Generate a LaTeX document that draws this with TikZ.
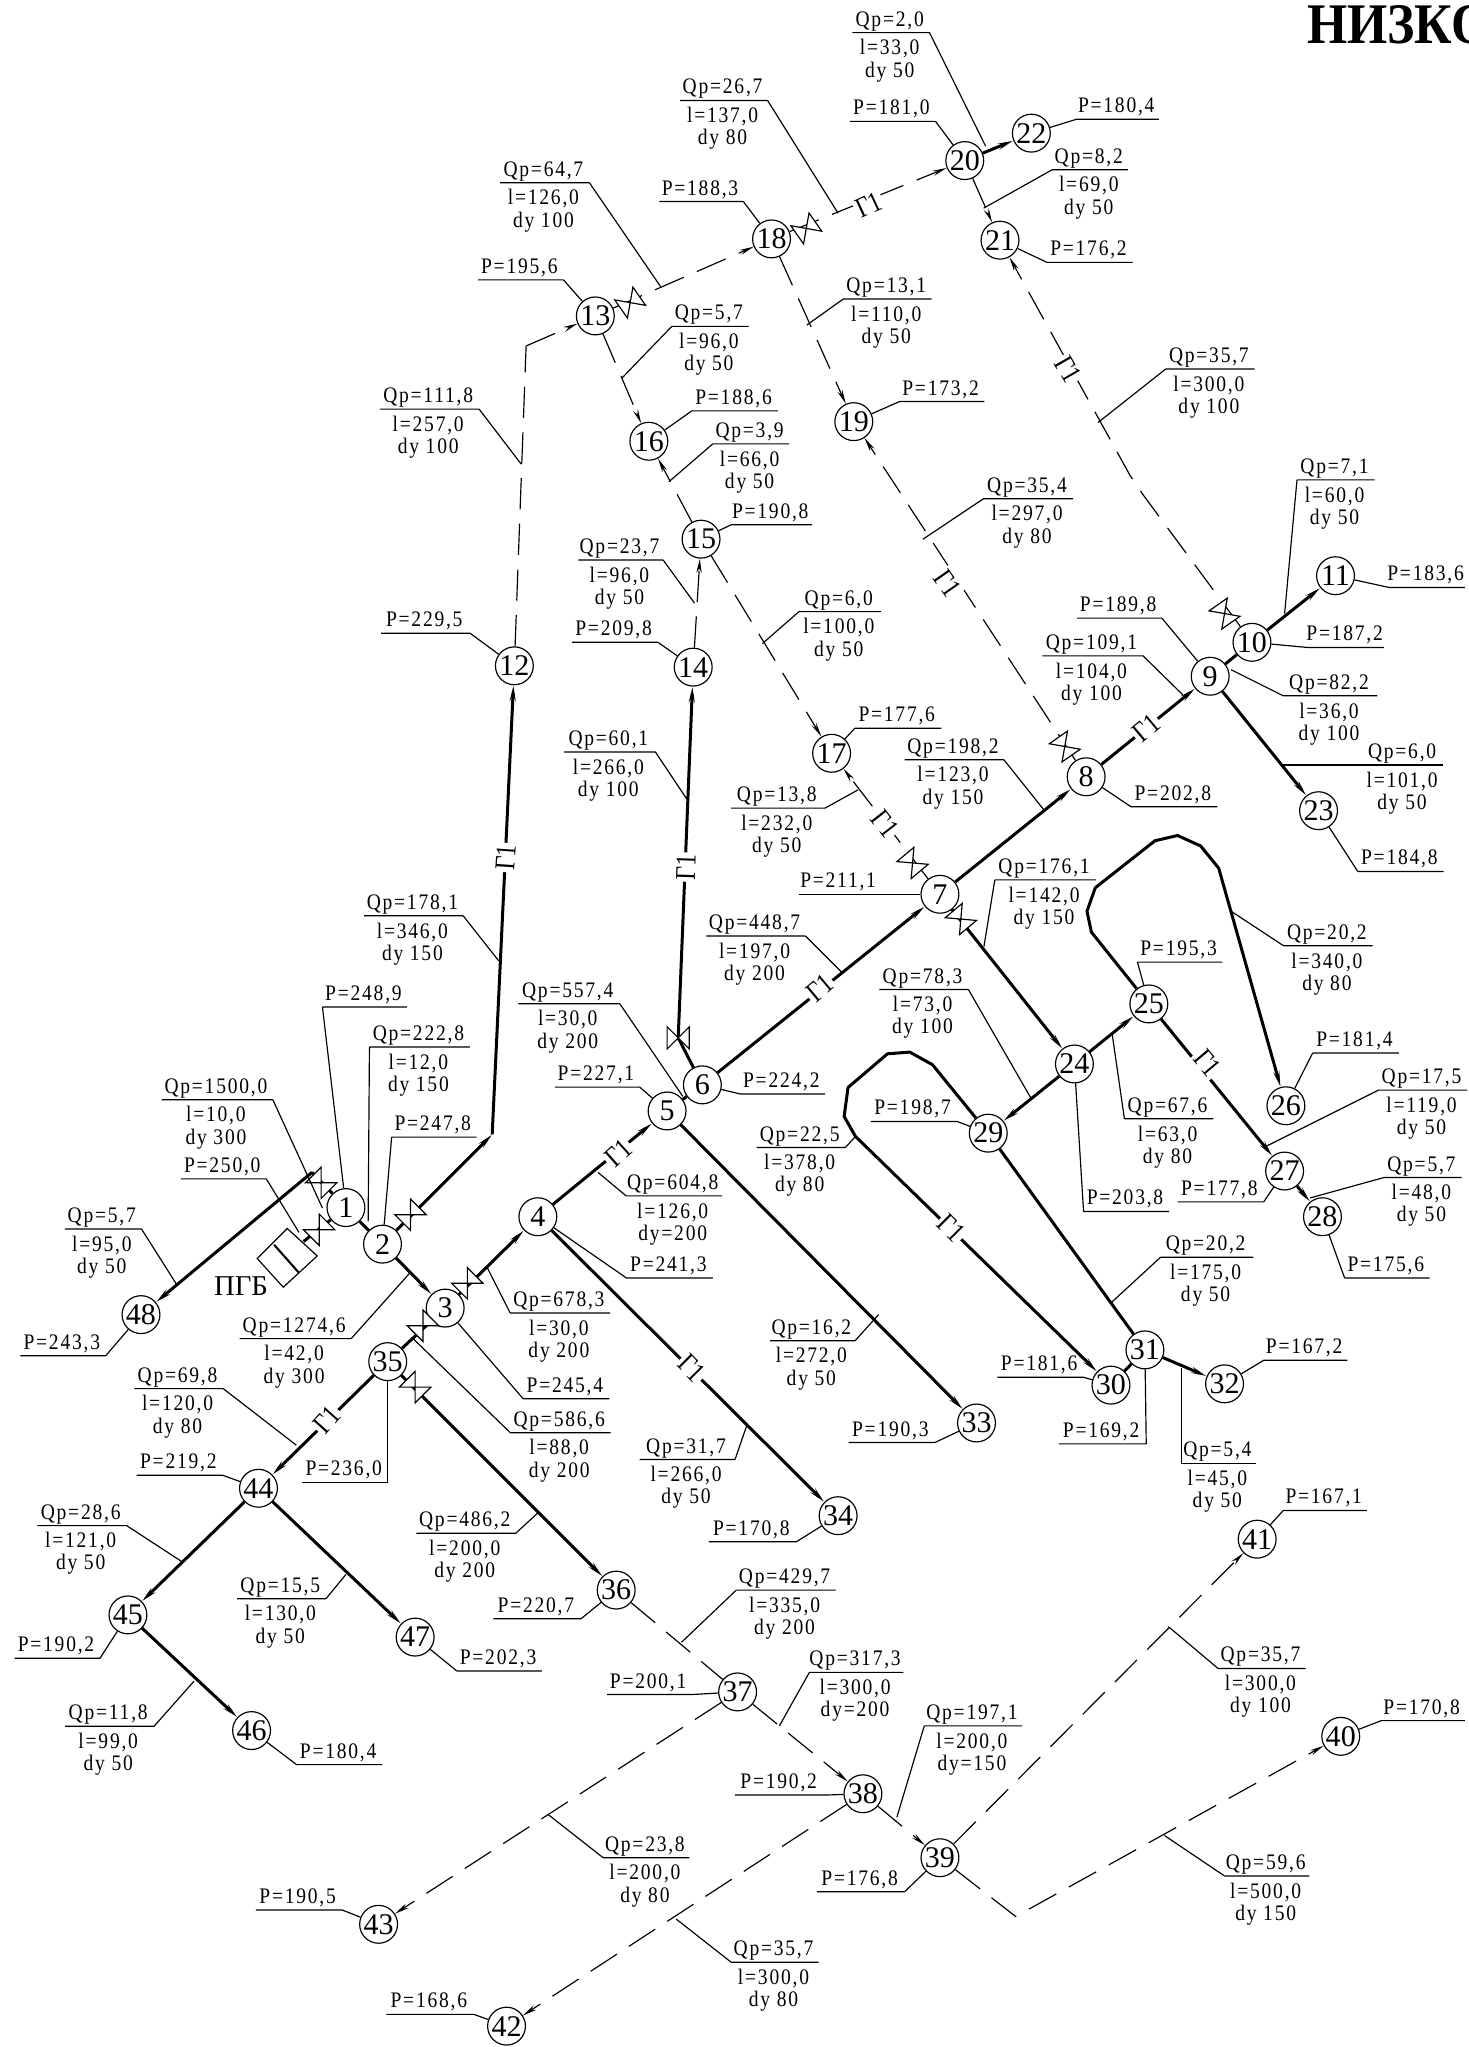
\documentclass[tikz,border=0pt]{standalone}
\usepackage{fontspec}
\setmainfont{Liberation Serif}[FakeStretch=0.88,LetterSpace=8]
\newfontfamily\numfont{Liberation Serif}
\newfontfamily\gfont{Liberation Serif}[FakeStretch=0.82]
\newfontfamily\titlefont{Liberation Serif}[FakeStretch=0.9]
\usetikzlibrary{arrows.meta}
\tikzset{
  nd/.style={circle,draw,line width=0.9pt,fill=white,minimum size=29pt,inner sep=0pt,font=\numfont\fontsize{23}{23}\selectfont},
  lbl/.style={anchor=base,inner sep=0pt,font=\fontsize{17}{17}\selectfont},
  leader/.style={line width=0.9pt},
  hp/.style={line width=2.3pt},
  dp/.style={line width=0.9pt,dash pattern=on 24pt off 11pt},
  arr/.style={-{Stealth[length=11pt,width=4pt]}},
  glab/.style={fill=white,inner sep=1.5pt,font=\gfont\fontsize{22}{22}\selectfont},
  vlv/.style={line width=0.9pt,fill=white,draw}
}
\newcommand\Qb[9]{%
  \pgfmathsetmacro\xm{(#2+#3)/2-1}%
  \coordinate (#1a) at (#2,#4);\coordinate (#1b) at (#3,#4);
  \coordinate (#1e) at (#5,#4);\coordinate (#1t) at (#6);
  \draw[leader] (#1a)--(#1b) (#1e)--(#1t);
  \node[lbl] (#1q) at ({\xm},{#4-5}) {#7};
  \node[lbl] (#1l) at ({\xm},{#4+17}) {#8};
  \node[lbl] (#1d) at ({\xm},{#4+34}) {#9};
}
\newcommand\QL[8]{\Qb{#1}{#2}{#3}{#4}{#2}{#5}{#6}{#7}{#8}}
\newcommand\QR[8]{\Qb{#1}{#2}{#3}{#4}{#3}{#5}{#6}{#7}{#8}}
\newcommand\Pb[7]{%
  \pgfmathsetmacro\xm{(#2+#3)/2-1}%
  \coordinate (#1a) at (#2,#4);\coordinate (#1b) at (#3,#4);\coordinate (#1e) at (#5,#4);
  \draw[leader] (#1a)--(#1b) (#1e)--(#6);
  \node[lbl] (#1q) at ({\xm},{#4-5}) {#7};
}
\newcommand\PL[6]{\Pb{#1}{#2}{#3}{#4}{#2}{#5}{#6}}
\newcommand\PR[6]{\Pb{#1}{#2}{#3}{#4}{#3}{#5}{#6}}
\newcommand\valve[3]{\draw[vlv,shift={(#1,#2)},rotate=#3] (-8.5,-8.5)--(-8.5,8.5)--(8.5,-8.5)--(8.5,8.5)--cycle;}
\newcommand\gone[4]{\node[glab,rotate=#4] (g#1) at (#2,#3) {Г1};}
\begin{document}
\begin{tikzpicture}[x=1pt,y=-1pt]
\useasboundingbox (0,0) rectangle (1125,1568);
% nodes
\foreach \n/\x/\y in {1/265/925,2/293/953,3/341/1002,4/412/932,5/511/851,6/538/831,7/720/685,8/832/595,9/927/518,10/959/492,11/1023/441,12/394/510,13/456/242,14/531/511,15/537/413,16/497/338,17/637/577,18/591/183,19/654/323,20/739/123,21/766/184,22/790/102,23/1010/621,24/823/815,25/880/769,26/985/847,27/984/897,28/1013/932,29/757/868,30/851/1061,31/877/1034,32/938/1060,33/748/1090,34/642/1161,35/297/1043,36/472/1218,37/565/1296,38/661/1374,39/720/1423,40/1027/1330,41/963/1179,42/388/1552,43/290/1474,44/198/1140,45/98/1237,46/192.7/1325.6,47/318/1254,48/108/1007}
  {\node[nd] (n\n) at (\x,\y) {\n};}
% bends
\coordinate (j48) at (239,898);
\coordinate (b2) at (377,869);
\coordinate (b12) at (403,265);
\coordinate (v6) at (519.5,795);
\coordinate (a1) at (836,714);\coordinate (a2) at (832.6,698);\coordinate (a3) at (839,680);
\coordinate (a4) at (884.7,644);\coordinate (a5) at (902,640);\coordinate (a6) at (919.7,648);\coordinate (a7) at (933.5,665);
\coordinate (c1) at (714.3,815.6);\coordinate (c2) at (696.9,805.9);\coordinate (c3) at (679.8,807.2);\coordinate (c4) at (649.6,833);\coordinate (c5) at (646.6,855.2);\coordinate (c6) at (655.3,870.5);
\coordinate (d1) at (865.4,363.8);\coordinate (d2) at (875.6,379);\coordinate (d3) at (778,1468);
\coordinate (pg) at (232.5,951);
% thick pipes
\draw[hp,arr] (j48)--(n48);
\draw[hp] (j48)--(n1);
\draw[hp] (pg)--(n1);
\draw[hp] (n1)--(n2);
\draw[hp,arr] (n2)--(n3);
\draw[hp,arr] (n2)--(b2);
\draw[hp,arr] (b2)--(n12);
\draw[hp,arr] (n3)--(n4);
\draw[hp] (n3)--(n35);
\draw[hp,arr] (n35)--(n36);
\draw[hp,arr] (n35)--(n44);
\draw[hp,arr] (n44)--(n45);
\draw[hp,arr] (n44)--(n47);
\draw[hp,arr] (n45)--(n46);
\draw[hp,arr] (n4)--(n5);
\draw[hp,arr] (n4)--(n34);
\draw[hp] (n5)--(n6);
\draw[hp,arr] (n5)--(n33);
\draw[hp] (n6)--(v6);
\draw[hp,arr] (v6)--(n14);
\draw[hp,arr] (n6)--(n7);
\draw[hp,arr] (n7)--(n8);
\draw[hp,arr] (n8)--(n9);
\draw[hp] (n9)--(n10);
\draw[hp,arr] (n10)--(n11);
\draw[hp,arr] (n9)--(n23);
\draw[hp,arr] (n7)--(n24);
\draw[hp,arr] (n24)--(n25);
\draw[hp,arr] (n24)--(n29);
\draw[hp,arr] (n25)--(n27);
\draw[hp,arr] (n27)--(n28);
\draw[hp,arr,line join=round] (n25)--(a1)--(a2)--(a3)--(a4)--(a5)--(a6)--(a7)--(n26);
\draw[hp] (n29)--(n31);
\draw[hp,arr,line join=round] (n29)--(c1)--(c2)--(c3)--(c4)--(c5)--(c6)--(n30);
\draw[hp] (n31)--(n30);
\draw[hp,arr] (n31)--(n32);
\draw[hp,arr] (n20)--(n22);
% dashed pipes
\draw[dp,arr] (b12)--(n13);
\draw[dp] (n12)--(b12);
\draw[dp,arr] (n13)--(n18);
\draw[dp,arr] (n18)--(n20);
\draw[dp,arr] (n20)--(n21);
\draw[dp,arr] (n10)--(d2)--(d1)--(n21);
\draw[dp,arr] (n13)--(n16);
\draw[dp,arr] (n15)--(n16);
\draw[dp,arr] (n18)--(n19);
\draw[dp,arr] (n8)--(n19);
\draw[dp,arr] (n14)--(n15);
\draw[dp,arr] (n15)--(n17);
\draw[dp,arr] (n7)--(n17);
\draw[dp] (n36)--(n37);
\draw[dp,arr] (n37)--(n38);
\draw[dp,arr] (n38)--(n39);
\draw[dp,arr] (n38)--(n42);
\draw[dp,arr] (n37)--(n43);
\draw[dp,arr] (n39)--(n41);
\draw[dp,arr] (n39)--(d3)--(n40);
% valves
\valve{246}{906}{-45}
\valve{244.5}{942}{45}
\valve{314.5}{930.5}{45}
\valve{358}{983}{45}
\valve{324}{1015.5}{45}
\valve{318}{1062.5}{-45}
\valve{519.5}{795}{0}
\valve{736}{704}{-50}
\valve{699}{661}{-50}
\valve{815.6}{571.8}{-55}
\valve{938}{470}{-55}
\valve{482.7}{231.8}{35}
\valve{617.6}{175}{35}
% G1
\gone{a}{387.2}{656.8}{86}
\gone{b}{525.3}{664.2}{88}
\gone{c}{473.5}{883}{42}
\gone{d}{628}{757}{40}
\gone{e}{878}{557.6}{40}
\gone{f}{925}{814}{-50}
\gone{g}{530}{1048}{-45}
\gone{h}{250.6}{1087.5}{48}
\gone{i}{728.8}{940.7}{-45}
\gone{j}{678}{631}{-52}
\gone{k}{726}{447}{-55}
\gone{l}{818}{283}{-60}
\gone{m}{665.6}{157}{25}
% PGB
\draw[vlv] (197,964)--(220,941)--(243,962)--(217,986)--cycle;
\draw[line width=1.6pt] (210,953.5)--(229,975);
\node[anchor=center,inner sep=0pt,font=\numfont\fontsize{22}{22}\selectfont] (pgb) at (184.6,985) {ПГБ};
\node[anchor=base west,inner sep=0pt,font=\titlefont\bfseries\fontsize{44}{44}\selectfont] (title) at (1001,33) {НИЗКО};
% Q labels
\QR{q1}{653}{712}{25}{755,112}{Qp=2,0}{l=33,0}{dy 50}
\QR{q2}{521}{588}{77}{642,163.4}{Qp=26,7}{l=137,0}{dy 80}
\QR{q3}{383}{451.5}{140}{506,219.5}{Qp=64,7}{l=126,0}{dy 100}
\QR{q4}{291}{367}{313.4}{399.3,355.6}{Qp=111,8}{l=257,0}{dy 100}
\QL{q5}{514.6}{573.4}{250}{476.3,289.7}{Qp=5,7}{l=96,0}{dy 50}
\QL{q6}{646}{713.7}{229}{618,249}{Qp=13,1}{l=110,0}{dy 50}
\QL{q7}{806}{864}{130}{753.4,159.5}{Qp=8,2}{l=69,0}{dy 50}
\QL{q8}{893}{961}{282.6}{841,323.7}{Qp=35,7}{l=300,0}{dy 100}
\QL{q9}{546}{604.4}{340}{512.4,369}{Qp=3,9}{l=66,0}{dy 50}
\QL{q10}{993.5}{1053}{367.6}{984,470}{Qp=7,1}{l=60,0}{dy 50}
\QL{q11}{753.4}{822}{382}{707,413}{Qp=35,4}{l=297,0}{dy 80}
\QR{q12}{443}{508}{429}{532,462}{Qp=23,7}{l=96,0}{dy 50}
\QL{q13}{612}{675}{468.5}{584,493}{Qp=6,0}{l=100,0}{dy 50}
\QR{q14}{798.5}{875.6}{502.4}{906,532.2}{Qp=109,1}{l=104,0}{dy 100}
\QL{q15}{983}{1055}{533}{943,513}{Qp=82,2}{l=36,0}{dy 100}
\QL{q16}{1045}{1105}{586}{981,586}{Qp=6,0}{l=101,0}{dy 50}
\QR{q17}{693}{769}{582}{799.3,620}{Qp=198,2}{l=123,0}{dy 150}
\QR{q18}{560}{632}{619}{657.3,605}{Qp=13,8}{l=232,0}{dy 50}
\QR{q19}{432}{502}{576}{526,612}{Qp=60,1}{l=266,0}{dy 100}
\QL{q20}{762}{839.5}{674}{753.7,725}{Qp=176,1}{l=142,0}{dy 150}
\QR{q21}{541}{617}{717}{645,745}{Qp=448,7}{l=197,0}{dy 200}
\QR{q22}{397}{474.8}{768.9}{523,839.8}{Qp=557,4}{l=30,0}{dy 200}
\QR{q23}{673.6}{741.8}{758}{789.6,841}{Qp=78,3}{l=73,0}{dy 100}
\QL{q24}{861.3}{929.4}{857}{852,792.6}{Qp=67,6}{l=63,0}{dy 80}
\QL{q25}{983.3}{1051.5}{724.5}{943,698}{Qp=20,2}{l=340,0}{dy 80}
\QL{q26}{1056}{1123.8}{835}{970,878}{Qp=17,5}{l=119,0}{dy 50}
\QL{q27}{1060}{1119.6}{902}{1003.6,917.6}{Qp=5,7}{l=48,0}{dy 50}
\QL{q28}{889}{960}{963}{851,998}{Qp=20,2}{l=175,0}{dy 50}
\QR{q29}{579.5}{647.6}{879}{655.3,870.5}{Qp=22,5}{l=378,0}{dy 80}
\QL{q30}{479.6}{553}{916}{458,898}{Qp=604,8}{l=126,0}{dy=200}
\QL{q31}{390.8}{467.4}{1005.7}{372.7,970}{Qp=678,3}{l=30,0}{dy 200}
\QL{q32}{391}{467.7}{1097.5}{316,1025}{Qp=586,6}{l=88,0}{dy 200}
\QR{q33}{183.6}{269}{1025.4}{314,975}{Qp=1274,6}{l=42,0}{dy 300}
\QR{q34}{123.8}{209}{842.4}{247,925.4}{Qp=1500,0}{l=10,0}{dy 300}
\QL{q35}{283}{360}{802}{282,935.6}{Qp=222,8}{l=12,0}{dy 150}
\QR{q36}{279}{354.8}{701.5}{382,736}{Qp=178,1}{l=346,0}{dy 150}
\QR{q37}{49.6}{108.4}{941.4}{136,985}{Qp=5,7}{l=95,0}{dy 50}
\QR{q38}{103}{171}{1063.7}{227,1107}{Qp=69,8}{l=120,0}{dy 80}
\QR{q39}{490}{563}{1118}{572,1092}{Qp=31,7}{l=266,0}{dy 50}
\QR{q40}{590}{655}{1027}{673,1007}{Qp=16,2}{l=272,0}{dy 50}
\QR{q41}{319}{395}{1174.5}{413,1158}{Qp=486,2}{l=200,0}{dy 200}
\QR{q42}{28.6}{97}{1168.6}{139,1196}{Qp=28,6}{l=121,0}{dy 50}
\QR{q43}{181.7}{249.7}{1224.6}{265,1206}{Qp=15,5}{l=130,0}{dy 50}
\QR{q44}{49.8}{118}{1322.3}{148.6,1287.8}{Qp=11,8}{l=99,0}{dy 50}
\QL{q45}{564}{640}{1218}{522,1258}{Qp=429,7}{l=335,0}{dy 200}
\QL{q46}{620}{692}{1281}{597,1322}{Qp=317,3}{l=300,0}{dy=200}
\QL{q47}{708}{783}{1322}{687,1392}{Qp=197,1}{l=200,0}{dy=150}
\QL{q48}{933}{1000}{1278}{895,1246}{Qp=35,7}{l=300,0}{dy 100}
\QL{q49}{938}{1003}{1437}{892,1406}{Qp=59,6}{l=500,0}{dy 150}
\QL{q50}{462}{528}{1423}{420,1390}{Qp=23,8}{l=200,0}{dy 80}
\QL{q51}{560}{627}{1503}{518,1470}{Qp=35,7}{l=300,0}{dy 80}
\QL{q52}{905}{962}{1121}{905,1048}{Qp=5,4}{l=45,0}{dy 50}
% P labels
\coordinate (t250) at (229,944);
\PR{p1}{651}{716.6}{93}{n20}{P=181,0}
\PL{p2}{824.5}{887.6}{91.4}{n22}{P=180,4}
\PR{p3}{505}{569.4}{154.4}{n18}{P=188,3}
\PL{p4}{802}{867.6}{201}{n21}{P=176,2}
\PR{p5}{366}{431.6}{214.4}{n13}{P=195,6}
\PL{p6}{530}{595.8}{314.7}{n16}{P=188,6}
\PL{p7}{689}{754}{307.6}{n19}{P=173,2}
\PL{p8}{560}{622}{402}{n15}{P=190,8}
\PR{p9}{292}{360}{485}{n12}{P=229,5}
\PR{p10}{438}{504}{492}{n14}{P=209,8}
\PL{p11}{654.8}{721}{557.8}{n17}{P=177,6}
\PR{p12}{825}{890}{473.5}{n9}{P=189,8}
\PL{p13}{1002}{1060}{496}{n10}{P=187,2}
\PL{p14}{1064}{1122}{450}{n11}{P=183,6}
\PL{p15}{1040}{1105.8}{667.5}{n23}{P=184,8}
\PL{p16}{866.4}{932.4}{618}{n8}{P=202,8}
\PR{p17}{612}{674}{685}{n7}{P=211,1}
\PL{p18}{871.3}{936.3}{737}{n25}{P=195,3}
\PL{p19}{1005.5}{1071.6}{806.6}{n26}{P=181,4}
\PR{p20}{667}{733}{859}{n29}{P=198,7}
\PR{p21}{902}{968}{920.6}{n27}{P=177,8}
\PL{p22}{830}{895.5}{928}{n24}{P=203,8}
\PL{p23}{1030}{1095}{979}{n28}{P=175,6}
\PL{p24}{968}{1032}{1042}{n32}{P=167,2}
\PR{p25}{764}{830}{1055}{n30}{P=181,6}
\PR{p26}{811}{878}{1106}{n31}{P=169,2}
\PR{p27}{650}{716}{1105}{n33}{P=190,3}
\PR{p28}{543}{610}{1181}{n34}{P=170,8}
\PL{p29}{983}{1047}{1157}{n41}{P=167,1}
\PL{p30}{1058}{1122}{1318}{n40}{P=170,8}
\PR{p31}{626}{693}{1449}{n39}{P=176,8}
\PR{p32}{563}{632}{1375}{n38}{P=190,2}
\PR{p33}{465}{530}{1298}{n37}{P=200,1}
\PR{p34}{378}{445}{1240}{n36}{P=220,7}
\PR{p35}{196}{262}{1463}{n43}{P=190,5}
\PR{p36}{296}{363}{1543}{n42}{P=168,6}
\PR{p37}{15.7}{81}{1038.5}{n48}{P=243,3}
\PR{p38}{138.5}{204}{903}{t250}{P=250,0}
\PL{p39}{247}{311.8}{771.4}{n1}{P=248,9}
\PL{p40}{300}{365}{871}{n2}{P=247,8}
\PR{p41}{425}{490}{832.7}{n5}{P=227,1}
\PL{p42}{480}{546}{979}{n4}{P=241,3}
\PL{p43}{400.7}{466.7}{1071.4}{n3}{P=245,4}
\PL{p44}{567}{632}{838}{n6}{P=224,2}
\PR{p45}{231.6}{297}{1135.4}{n35}{P=236,0}
\PR{p46}{104.7}{170.5}{1130}{n44}{P=219,2}
\PR{p47}{11.2}{76.6}{1270.2}{n45}{P=190,2}
\PL{p48}{227.2}{292.8}{1351.7}{n46}{P=180,4}
\PL{p49}{350}{415}{1280}{n47}{P=202,3}
\end{tikzpicture}
\end{document}
